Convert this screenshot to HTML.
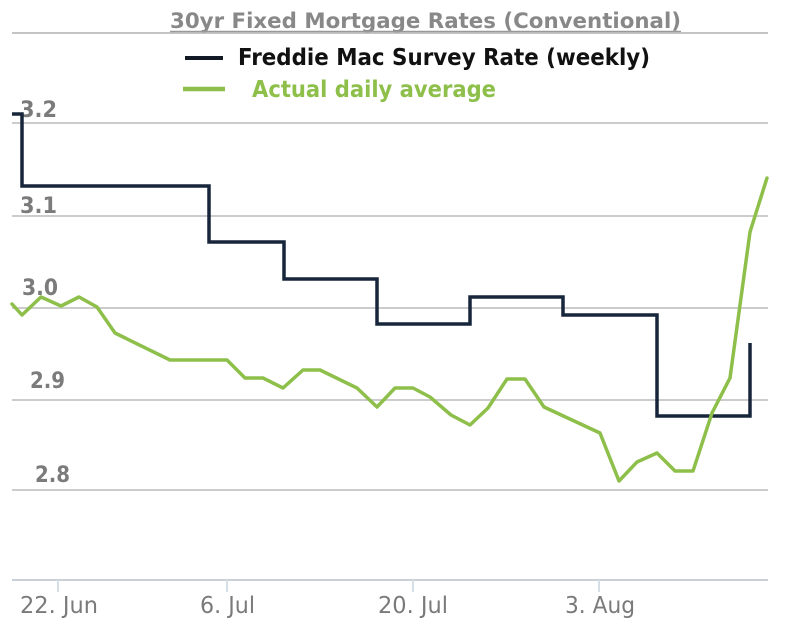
<!DOCTYPE html>
<html>
<head>
<meta charset="utf-8">
<style>
  html, body { margin: 0; padding: 0; background: #ffffff; }
  svg { display: block; }
  text { font-family: "DejaVu Sans", "Liberation Sans", sans-serif; }
</style>
</head>
<body>
<svg width="800" height="630" viewBox="0 0 800 630" xmlns="http://www.w3.org/2000/svg">
  <rect width="800" height="630" fill="#ffffff"/>

  <!-- top line / title underline -->
  <line x1="12" y1="33" x2="768" y2="33" stroke="#c4c4c4" stroke-width="2"/>

  <!-- title -->
  <text x="170" y="28" font-size="21" font-weight="bold" fill="#888888" textLength="511" lengthAdjust="spacingAndGlyphs">30yr Fixed Mortgage Rates (Conventional)</text>
  <line x1="170" y1="31.5" x2="681" y2="31.5" stroke="#999999" stroke-width="1.5"/>

  <!-- legend -->
  <line x1="185" y1="58" x2="223" y2="58" stroke="#111a24" stroke-width="4"/>
  <text x="238" y="65" font-size="23" font-weight="bold" fill="#111111" textLength="412" lengthAdjust="spacingAndGlyphs">Freddie Mac Survey Rate (weekly)</text>
  <line x1="183" y1="89" x2="225" y2="89" stroke="#8dbf4a" stroke-width="4.5"/>
  <text x="252" y="97" font-size="23" font-weight="bold" fill="#8dbf4a" textLength="244" lengthAdjust="spacingAndGlyphs">Actual daily average</text>

  <!-- gridlines -->
  <g stroke="#cccccc" stroke-width="2">
    <line x1="12" y1="123" x2="768" y2="123"/>
    <line x1="12" y1="216" x2="768" y2="216"/>
    <line x1="12" y1="308" x2="768" y2="308"/>
    <line x1="12" y1="400" x2="768" y2="400"/>
    <line x1="12" y1="490" x2="768" y2="490"/>
  </g>
  <!-- x axis -->
  <line x1="12" y1="580" x2="768" y2="580" stroke="#c9d0d7" stroke-width="2"/>
  <g stroke="#d6dee6" stroke-width="2">
    <line x1="58" y1="580" x2="58" y2="592"/>
    <line x1="227" y1="580" x2="227" y2="592"/>
    <line x1="413" y1="580" x2="413" y2="592"/>
    <line x1="599" y1="580" x2="599" y2="592"/>
  </g>

  <!-- y labels -->
  <g font-size="22" font-weight="bold" fill="#7b7b7b">
    <text x="20" y="117" textLength="37" lengthAdjust="spacingAndGlyphs">3.2</text>
    <text x="20" y="213" textLength="37" lengthAdjust="spacingAndGlyphs">3.1</text>
    <text x="22" y="295" textLength="36" lengthAdjust="spacingAndGlyphs">3.0</text>
    <text x="30" y="388" textLength="35" lengthAdjust="spacingAndGlyphs">2.9</text>
    <text x="35" y="482" textLength="35" lengthAdjust="spacingAndGlyphs">2.8</text>
  </g>

  <!-- x labels -->
  <g font-size="23" fill="#7a7a7a">
    <text x="20" y="613" textLength="78" lengthAdjust="spacingAndGlyphs">22. Jun</text>
    <text x="200" y="613" textLength="55" lengthAdjust="spacingAndGlyphs">6. Jul</text>
    <text x="378" y="613" textLength="70" lengthAdjust="spacingAndGlyphs">20. Jul</text>
    <text x="565" y="613" textLength="70" lengthAdjust="spacingAndGlyphs">3. Aug</text>
  </g>

  <!-- Freddie Mac step line -->
  <polyline fill="none" stroke="#17263a" stroke-width="3.5" stroke-linejoin="miter"
    points="12,114 22,114 22,186 209,186 209,242 284,242 284,279 377,279 377,324 470,324 470,297 563,297 563,315 657,315 657,416 750,416 750,343"/>

  <!-- Actual daily average -->
  <polyline fill="none" stroke="#8dbf4a" stroke-width="3.5" stroke-linejoin="round" stroke-linecap="round"
    points="12,304 22,315 41,297 61,306 79,297 97,307 115,333 170,360 227,360 245,378 263,378 283,388 303,370 320,370 357,388 377,407 395,388 413,388 430,397 451,415 470,425 488,408 507,379 525,379 544,407 600,433 619,481 637,462 657,453 675,471 693,471 712,413 730,378 750,232 767,178"/>
</svg>
</body>
</html>
